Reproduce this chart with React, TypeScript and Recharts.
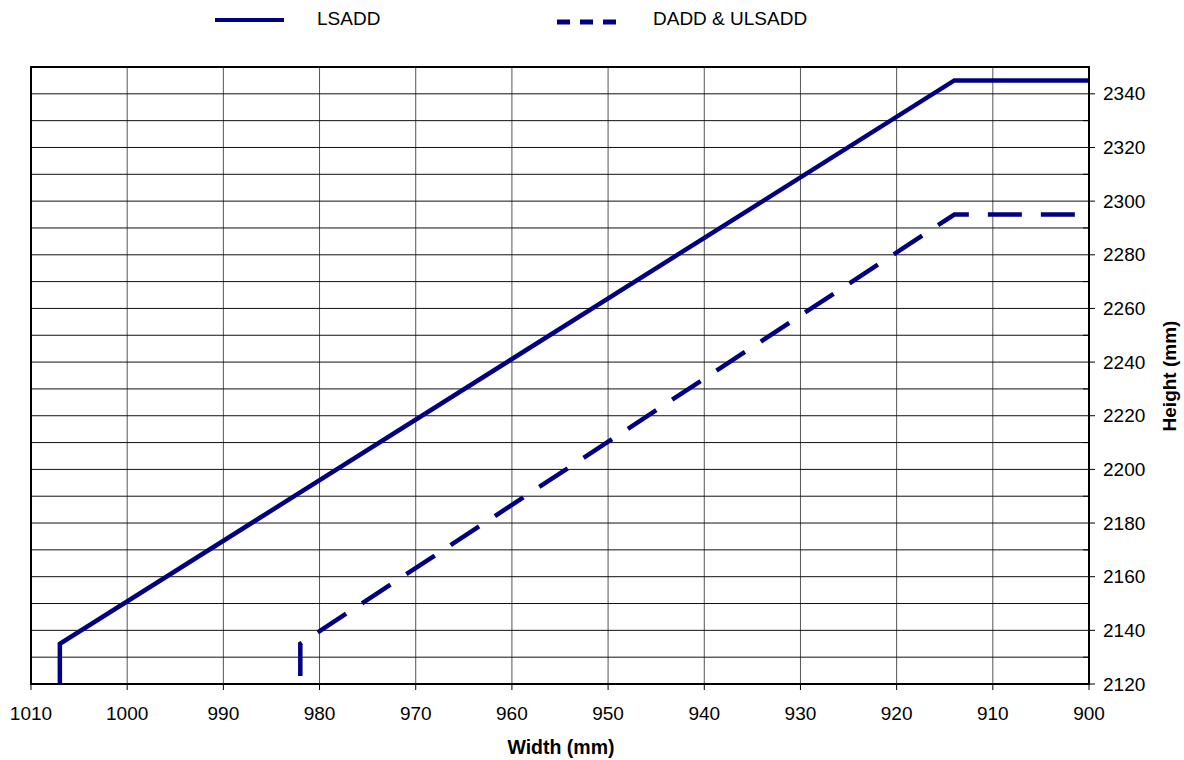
import { CartesianGrid, Label, Legend, Line, LineChart, ReferenceArea, XAxis, YAxis } from 'recharts';

const widthTicks = [1010, 1000, 990, 980, 970, 960, 950, 940, 930, 920, 910, 900];
const heightTicks = [
  2120, 2130, 2140, 2150, 2160, 2170, 2180, 2190, 2200, 2210, 2220, 2230,
  2240, 2250, 2260, 2270, 2280, 2290, 2300, 2310, 2320, 2330, 2340,
];

const lsaddWidth = [1007, 1007, 914, 900];
const lsaddHeight = [2120, 2135, 2345, 2345];
const daddWidth = [982, 982, 914, 900];
const daddHeight = [2123, 2135, 2295, 2295];

const lineColor = '#000080';
const fontFamily = '"Liberation Sans", Arial, sans-serif';

const lsaddData = lsaddWidth.map((w, i) => ({ w, h: lsaddHeight[i] }));
const daddData = daddWidth.map((w, i) => ({ w, h: daddHeight[i] }));

function WidthTick({ x, y, payload }: any) {
  const axisY = y - 8;
  return (
    <g>
      <line x1={x} x2={x} y1={axisY} y2={axisY + 6} stroke="#000" strokeWidth={1} />
      <text x={x} y={axisY + 36} textAnchor="middle" fontSize={19} fontFamily={fontFamily} fill="#000">
        {payload.value}
      </text>
    </g>
  );
}

function HeightTick({ x, y, payload }: any) {
  const axisX = x - 8;
  const labelled = payload.value % 20 === 0;
  return (
    <g>
      <line
        x1={labelled ? axisX : axisX - 6}
        x2={labelled ? axisX + 6 : axisX}
        y1={y}
        y2={y}
        stroke="#000"
        strokeWidth={1}
      />
      {labelled && (
        <text x={axisX + 14} y={y} dy="0.35em" fontSize={19} fontFamily={fontFamily} fill="#000">
          {payload.value}
        </text>
      )}
    </g>
  );
}

function ChartLegend() {
  return (
    <svg width={1184} height={40} style={{ display: 'block' }}>
      <line x1={215} x2={284} y1={20} y2={20} stroke={lineColor} strokeWidth={4} />
      <text x={317} y={25} fontSize={19} fontFamily={fontFamily} fill="#000">LSADD</text>
      <line x1={557} x2={617} y1={22} y2={22} stroke={lineColor} strokeWidth={5} strokeDasharray="13 10" />
      <text x={653} y={25} fontSize={19} fontFamily={fontFamily} fill="#000">DADD &amp; ULSADD</text>
    </svg>
  );
}

export default function App() {
  return (
    <div style={{ position: 'absolute', left: 0, top: 0, width: 1184, height: 760, background: '#fff' }}>
      <LineChart width={1184} height={760} margin={{ top: 27, right: 35, bottom: 46, left: 31 }}>
        <Legend verticalAlign="top" align="left" height={40} content={() => <ChartLegend />} wrapperStyle={{ top: 0, left: 0 }} />
        <CartesianGrid horizontal={false} stroke="#555" strokeWidth={1} />
        <CartesianGrid vertical={false} stroke="#111" strokeWidth={1} />
        <XAxis
          type="number"
          dataKey="w"
          domain={[900, 1010]}
          reversed
          ticks={widthTicks}
          interval={0}
          allowDataOverflow
          height={30}
          axisLine={{ stroke: '#000', strokeWidth: 2 }}
          tickLine={false}
          tick={<WidthTick />}
        >
          <Label
            content={() => (
              <text x={561} y={754} textAnchor="middle" fontSize={19.5} fontWeight="bold" fontFamily={fontFamily} fill="#000">
                Width (mm)
              </text>
            )}
          />
        </XAxis>
        <YAxis
          type="number"
          orientation="right"
          domain={[2120, 2350]}
          ticks={heightTicks}
          interval={0}
          allowDataOverflow
          width={60}
          axisLine={{ stroke: '#000', strokeWidth: 2 }}
          tickLine={false}
          tick={<HeightTick />}
        >
          <Label
            content={() => (
              <text
                x={1169}
                y={376}
                dy="0.35em"
                textAnchor="middle"
                transform="rotate(-90 1169 376)"
                fontSize={19}
                fontWeight="bold"
                fontFamily={fontFamily}
                fill="#000"
              >
                Height (mm)
              </text>
            )}
          />
        </YAxis>
        <ReferenceArea x1={1010} x2={900} y1={2120} y2={2350} fill="none" stroke="#000" strokeWidth={2} ifOverflow="visible" />
        <Line
          data={lsaddData}
          dataKey="h"
          type="linear"
          stroke={lineColor}
          strokeWidth={4.5}
          dot={false}
          activeDot={false}
          isAnimationActive={false}
        />
        <Line
          data={daddData}
          dataKey="h"
          type="linear"
          stroke={lineColor}
          strokeWidth={4.5}
          strokeDasharray="34 19"
          dot={false}
          activeDot={false}
          isAnimationActive={false}
        />
      </LineChart>
    </div>
  );
}
